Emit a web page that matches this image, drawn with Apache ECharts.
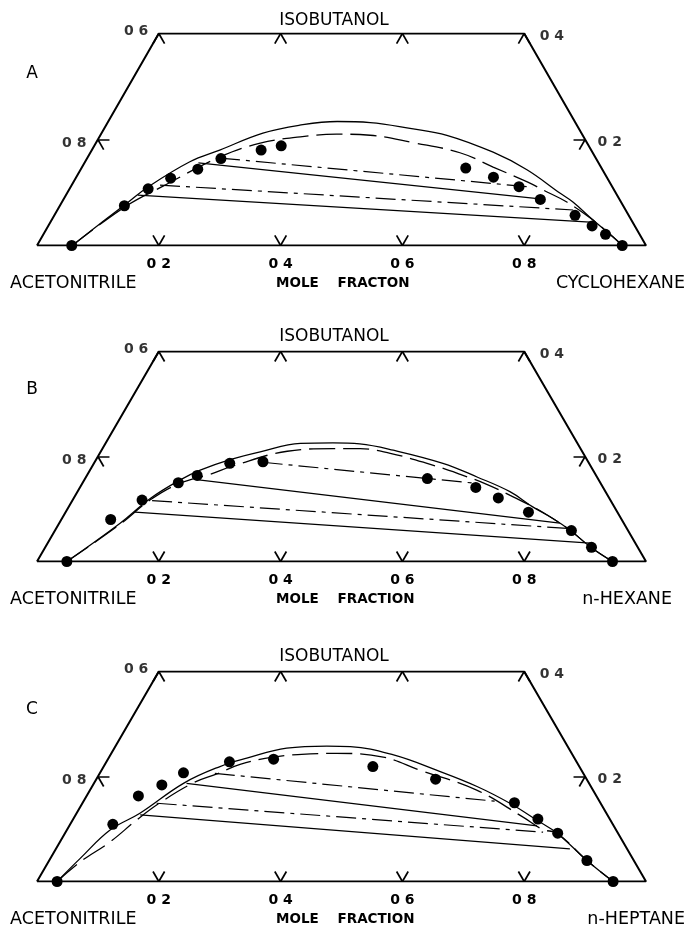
<!DOCTYPE html>
<html>
<head>
<meta charset="utf-8">
<script src="https://cdn.jsdelivr.net/npm/echarts@6/dist/echarts.min.js"></script>
<style>
  html, body { margin: 0; padding: 0; background: #fff; }
  #main { width: 687px; height: 927px; }
</style>
</head>
<body>
<div id="main"></div>
<script>
// every composition is [x hydrocarbon, x isobutanol]; acetonitrile is the rest
const panelNames = ['A', 'B', 'C'];
const hydrocarbons = ['CYCLOHEXANE', 'n-HEXANE', 'n-HEPTANE'];
const axisTitles = ['MOLE    FRACTON', 'MOLE    FRACTION', 'MOLE    FRACTION'];
const baseTicks = [0.2, 0.4, 0.6, 0.8];
const topTicks = [0, 0.2, 0.4, 0.6];

// panel A: isobutanol / acetonitrile / cyclohexane
const pointsA = [[0.057, 0], [0.106, 0.075], [0.129, 0.107], [0.156, 0.127], [0.192, 0.144], [0.220, 0.164],
  [0.278, 0.180], [0.307, 0.188], [0.631, 0.146], [0.685, 0.129], [0.736, 0.111], [0.783, 0.087],
  [0.855, 0.057], [0.893, 0.037], [0.923, 0.021], [0.961, 0]];
const curveSolidA = [[0.058, 0], [0.083, 0.041], [0.108, 0.080], [0.126, 0.109], [0.172, 0.158], [0.210, 0.180],
  [0.265, 0.212], [0.318, 0.227], [0.376, 0.234], [0.431, 0.232], [0.502, 0.221], [0.569, 0.208],
  [0.661, 0.176], [0.733, 0.143], [0.809, 0.099], [0.839, 0.082], [0.889, 0.048], [0.938, 0.016], [0.961, 0]];
const curveDashedA = [[0.058, 0], [0.108, 0.073], [0.151, 0.112], [0.217, 0.167], [0.270, 0.193], [0.330, 0.205],
  [0.387, 0.210], [0.443, 0.208], [0.521, 0.194], [0.607, 0.175], [0.675, 0.148], [0.745, 0.120],
  [0.787, 0.101], [0.829, 0.082], [0.889, 0.048], [0.938, 0.016], [0.961, 0]];
const tiesCalcA = [[[0.218, 0.165], [0.759, 0.110]], [[0.145, 0.114], [0.847, 0.067]]];
const tiesExpA = [[[0.187, 0.156], [0.782, 0.088]], [[0.118, 0.095], [0.886, 0.044]]];

// panel B: isobutanol / acetonitrile / n-hexane
const pointsB = [[0.049, 0], [0.081, 0.080], [0.114, 0.117], [0.157, 0.150], [0.181, 0.164], [0.223, 0.187],
  [0.276, 0.190], [0.562, 0.158], [0.650, 0.141], [0.697, 0.121], [0.760, 0.094], [0.848, 0.059],
  [0.897, 0.027], [0.945, 0]];
const curveSolidB = [[0.049, 0], [0.100, 0.073], [0.126, 0.120], [0.157, 0.155], [0.181, 0.174], [0.220, 0.194],
  [0.262, 0.209], [0.320, 0.225], [0.373, 0.226], [0.418, 0.224], [0.479, 0.212], [0.573, 0.187],
  [0.642, 0.161], [0.710, 0.133], [0.762, 0.104], [0.806, 0.082], [0.845, 0.060], [0.896, 0.027], [0.945, 0]];
const curveDashedB = [[0.049, 0], [0.101, 0.071], [0.127, 0.117], [0.160, 0.149], [0.201, 0.166], [0.231, 0.182],
  [0.306, 0.210], [0.379, 0.215], [0.423, 0.215], [0.477, 0.206], [0.547, 0.187], [0.612, 0.166],
  [0.665, 0.147], [0.714, 0.126], [0.763, 0.104], [0.806, 0.082], [0.845, 0.060], [0.896, 0.027], [0.945, 0]];
const tiesCalcB = [[[0.276, 0.189], [0.646, 0.149]], [[0.131, 0.116], [0.839, 0.063]]];
const tiesExpB = [[[0.184, 0.156], [0.822, 0.073]], [[0.114, 0.094], [0.891, 0.035]]];

// panel C: isobutanol / acetonitrile / n-heptane
const pointsC = [[0.033, 0], [0.070, 0.109], [0.085, 0.163], [0.113, 0.184], [0.137, 0.207], [0.202, 0.228],
  [0.272, 0.233], [0.442, 0.219], [0.557, 0.195], [0.709, 0.150], [0.763, 0.119], [0.809, 0.092],
  [0.883, 0.040], [0.946, 0]];
const curveSolidC = [[0.033, 0], [0.049, 0.044], [0.071, 0.098], [0.104, 0.130], [0.147, 0.187], [0.191, 0.219],
  [0.227, 0.235], [0.283, 0.254], [0.347, 0.258], [0.386, 0.257], [0.465, 0.241], [0.550, 0.212],
  [0.632, 0.181], [0.702, 0.149], [0.762, 0.117], [0.808, 0.092], [0.883, 0.040], [0.946, 0]];
const curveDashedC = [[0.033, 0], [0.052, 0.037], [0.082, 0.075], [0.105, 0.117], [0.127, 0.150], [0.163, 0.188],
  [0.193, 0.205], [0.222, 0.223], [0.269, 0.237], [0.327, 0.243], [0.370, 0.244], [0.450, 0.237],
  [0.523, 0.212], [0.635, 0.174], [0.736, 0.123], [0.781, 0.099], [0.808, 0.092], [0.883, 0.040], [0.946, 0]];
const tiesCalcC = [[[0.189, 0.206], [0.675, 0.153]], [[0.122, 0.149], [0.784, 0.094]]];
const tiesExpC = [[[0.152, 0.187], [0.768, 0.106]], [[0.106, 0.127], [0.844, 0.062]]];

const panels = [
  {points: pointsA, solid: curveSolidA, dashed: curveDashedA, calc: tiesCalcA, exp: tiesExpA},
  {points: pointsB, solid: curveSolidB, dashed: curveDashedB, calc: tiesCalcB, exp: tiesExpB},
  {points: pointsC, solid: curveSolidC, dashed: curveDashedC, calc: tiesCalcC, exp: tiesExpC}
];

// ternary -> plane: base runs along hydrocarbon, height is isobutanol
const tern = p => [p[0] + p[1] / 2, p[1]];
const frame = [[0, 0], [1, 0], [0.6, 0.4], [0, 0.4], [0, 0]];
const t = 0.019;

function tickSegments() {
  const segs = [];
  baseTicks.forEach(h => {
    segs.push([[h, 0], [h, t]]);
    segs.push([[h, 0], [h - t, t]]);
  });
  topTicks.forEach(h => {
    segs.push([[h, 0.4], [h, 0.4 - t]]);
    segs.push([[h, 0.4], [h + t, 0.4 - t]]);
  });
  segs.push([[0, 0.2], [t, 0.2]]);
  segs.push([[0, 0.2], [t, 0.2 - t]]);
  segs.push([[0.8, 0.2], [0.8 - t, 0.2]]);
  segs.push([[0.8, 0.2], [0.8, 0.2 - t]]);
  return segs.map(s => ({coords: s.map(tern)}));
}

const baseY = [245.5, 561.5, 881.5];
const plotH = [212, 210, 210];
const ink = '#000';
const font = 'DejaVu Sans';

const grids = [], xAxes = [], yAxes = [], series = [], texts = [];

panels.forEach((p, i) => {
  grids.push({left: 37, width: 609, top: baseY[i] - plotH[i], height: plotH[i]});
  xAxes.push({
    type: 'value', gridIndex: i, min: 0, max: 1, interval: 0.2,
    axisLine: {show: false}, axisTick: {show: false}, splitLine: {show: false},
    axisLabel: {
      margin: 12, color: ink, fontSize: 14, fontWeight: 'bold', fontFamily: font,
      formatter: v => (v > 0.01 && v < 0.99) ? '0 ' + Math.round(v * 10) : ''
    }
  });
  yAxes.push({type: 'value', gridIndex: i, min: 0, max: 0.4, show: false});

  const ax = {xAxisIndex: i, yAxisIndex: i};
  series.push({
    ...ax, type: 'line', data: frame.map(tern), symbol: 'none',
    lineStyle: {color: ink, width: 2}
  });
  series.push({
    ...ax, type: 'lines', coordinateSystem: 'cartesian2d', data: tickSegments(),
    lineStyle: {color: ink, width: 1.7, opacity: 1}
  });
  series.push({
    ...ax, type: 'lines', coordinateSystem: 'cartesian2d',
    data: p.exp.map(s => ({coords: s.map(tern)})),
    lineStyle: {color: ink, width: 1.2, opacity: 1}
  });
  series.push({
    ...ax, type: 'lines', coordinateSystem: 'cartesian2d',
    data: p.calc.map(s => ({coords: s.map(tern)})),
    lineStyle: {color: ink, width: 1.2, opacity: 1, type: [20, 6, 4, 6]}
  });
  series.push({
    ...ax, type: 'line', data: p.solid.map(tern), smooth: 0.4, symbol: 'none',
    lineStyle: {color: ink, width: 1.3}
  });
  series.push({
    ...ax, type: 'line', data: p.dashed.map(tern), smooth: 0.4, symbol: 'none',
    lineStyle: {color: ink, width: 1.3, type: [26, 8]}
  });
  series.push({
    ...ax, type: 'scatter', data: p.points.map(tern), symbol: 'circle', symbolSize: 11,
    itemStyle: {color: '#000', opacity: 1}, z: 5
  });
  // edge scale labels
  const lbl = {color: ink, fontSize: 14, fontWeight: 'bold', fontFamily: font};
  series.push({
    ...ax, type: 'scatter', symbolSize: 1, itemStyle: {color: 'rgba(0,0,0,0)'},
    data: [
      {value: tern([0, 0.4]), label: {...lbl, show: true, formatter: '0 6', position: 'left', distance: 10, offset: [0, -2]}},
      {value: tern([0, 0.2]), label: {...lbl, show: true, formatter: '0 8', position: 'left', distance: 11, offset: [0, 4]}},
      {value: tern([0.6, 0.4]), label: {...lbl, show: true, formatter: '0 4', position: 'right', distance: 15, offset: [0, 3]}},
      {value: tern([0.8, 0.2]), label: {...lbl, show: true, formatter: '0 2', position: 'right', distance: 12, offset: [0, 3]}}
    ]
  });

  const b = baseY[i];
  texts.push({type: 'text', x: 334, y: b - 225,
    style: {text: 'ISOBUTANOL', fontSize: 17, fontFamily: font, fill: ink, align: 'center', verticalAlign: 'middle'}});
  texts.push({type: 'text', x: 32, y: b - 172,
    style: {text: panelNames[i], fontSize: 17, fontFamily: font, fill: ink, align: 'center', verticalAlign: 'middle'}});
  texts.push({type: 'text', x: 10, y: b + 38,
    style: {text: 'ACETONITRILE', fontSize: 17.5, fontFamily: font, fill: ink, align: 'left', verticalAlign: 'middle'}});
  texts.push({type: 'text', x: 276, y: b + 38,
    style: {text: axisTitles[i], fontSize: 13.5, fontWeight: 'bold', fontFamily: font, fill: ink, align: 'left', verticalAlign: 'middle'}});
  texts.push({type: 'text', x: i === 1 ? 672 : 685, y: b + 38,
    style: {text: hydrocarbons[i], fontSize: 17.5, fontFamily: font, fill: ink, align: 'right', verticalAlign: 'middle'}});
});

const chart = echarts.init(document.getElementById('main'));
chart.setOption({
  animation: false,
  backgroundColor: '#fff',
  grid: grids,
  xAxis: xAxes,
  yAxis: yAxes,
  series: series,
  graphic: texts
});
</script>
</body>
</html>
